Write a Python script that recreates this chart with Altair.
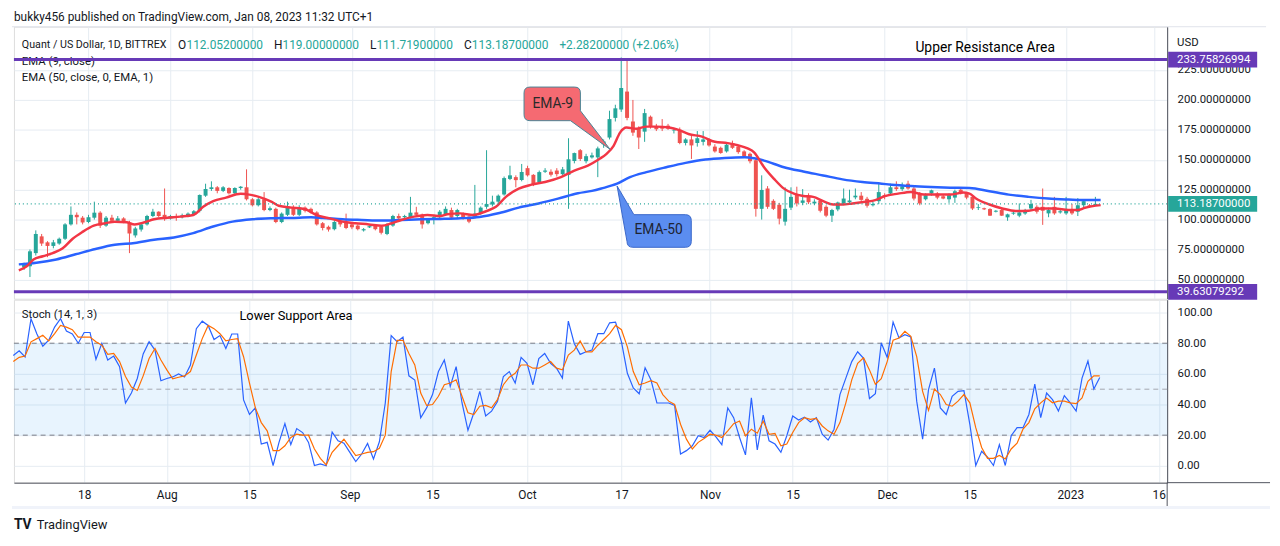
import altair as alt
import pandas as pd
import numpy as np

# ---------------- data ----------------
BASE = pd.Timestamp("2022-07-07")  # first daily candle

opens = [60, 61, 72, 86, 81, 78, 80, 84, 96, 104, 101.6, 98, 101.6, 105.8, 95, 101.6, 99, 101, 97.5, 86.8,
         91.7, 96, 103, 106.6, 104, 101, 103, 102, 103, 104, 107.4, 120, 125.6, 127, 124, 126.4, 122, 126.4, 127, 117,
         112, 117, 108, 109, 98, 104, 110.7, 104, 110, 109, 106, 97, 94, 92, 99, 98, 96, 95, 91, 93.5,
         95, 94, 88, 95, 103, 102, 102, 106, 104, 97, 100, 102, 104, 108, 103, 105, 102.5, 102.5, 105, 110.7,
         112.6, 115, 121, 134, 135.5, 133, 143, 137.4, 131.4, 140, 140, 141, 138, 137.4, 149, 158, 148.8, 152, 152, 163,
         168.6, 185, 192, 207, 182, 176, 173.5, 186, 178, 178, 178.5, 174.5, 175, 164, 167, 164, 165, 167, 161, 160,
         157, 163.8, 161, 157, 155, 149.6, 109, 126, 115.7, 112.4, 98.3, 110, 121, 114, 120, 113.5, 115.7, 110.7, 103.3, 108.5,
         113.5, 114.5, 118.6, 120, 117.4, 112, 115.4, 120.5, 121.8, 127, 125.4, 130, 126, 122.3, 117, 121.8, 121.8, 119.5, 117, 118.4,
         125, 121.8, 119, 109.7, 109.5, 108.8, 106.6, 108, 101.9, 105, 103.3, 105.2, 109.3, 110.7, 110.7, 105.2, 110.7, 106, 105.2, 108,
         106.6, 112, 112, 112.052]
highs = [64, 75, 91, 88, 82, 83, 85, 97, 111, 106, 103, 104, 115, 107, 103, 104, 103, 102, 99, 94,
         97, 104, 109, 107, 126, 104, 105, 105, 106, 108, 121, 130, 132, 128, 128, 127, 127, 128, 142, 118,
         118, 123, 111, 110, 106, 115, 112, 112, 111, 110, 107, 98, 95, 99, 101, 105, 97, 96, 93, 95,
         96, 95, 97, 104, 105, 104, 119, 110.7, 105, 101, 103, 108, 111, 110, 109, 106, 104, 129, 111, 158,
         120, 121, 136, 145, 137, 146.5, 145, 138, 141, 143, 142, 143, 144, 168, 156, 159, 155, 156, 161, 167,
         191, 196, 235.5, 233, 200, 178, 192.5, 187, 180, 184, 180, 176, 177, 168, 170, 174, 174, 168, 163, 161,
         164, 166, 162, 158, 156, 151, 137, 128, 117, 114, 127, 127, 127.5, 125.5, 122, 117, 117, 112, 109, 115,
         126, 125, 126, 123, 119, 115, 130, 122, 130, 132, 131, 132.5, 128, 123, 122, 125, 123, 121, 122, 125,
         127, 123, 120, 113, 110, 109.5, 108, 109, 105, 106.5, 113.5, 109, 116.5, 112, 126, 110, 119, 109, 119, 113,
         118, 117, 113, 119]
lows = [58, 52, 70, 78, 68.6, 76, 79, 83, 95, 96, 96, 97, 100, 93, 94, 98, 98, 97, 72, 85,
        90, 95, 102, 102, 99, 100, 99, 101, 102, 103, 106, 119, 124, 122, 123, 121, 121, 125, 116, 111,
        111, 107, 107, 97, 97, 103, 103, 103, 106, 105, 95, 91, 90, 91, 94, 92, 92, 91, 90, 93,
        91, 87.6, 87, 94, 100, 101, 101, 103, 92.5, 96, 96, 101, 103, 100, 101, 100, 97, 101, 104, 109,
        111, 113, 120, 133, 127, 132, 136, 128, 130, 139, 136, 136, 137, 109, 147, 149, 147, 151, 135.5, 160,
        167, 182, 190, 183, 170, 159, 165, 176, 174, 174, 175, 172, 163, 162, 150.7, 161, 162, 161, 156, 155,
        156, 159, 155, 152, 147, 102.5, 100, 109, 108, 96, 95, 108, 111, 112, 113, 112, 106, 102, 98, 107,
        112, 113, 117, 115, 110, 111, 113, 117, 120, 124, 124, 125, 116, 112, 116, 120, 117, 117, 114, 114,
        121, 117, 108, 108, 108, 103, 106, 103, 99, 104, 102, 104, 108, 105, 95.6, 102, 104, 105, 104, 104,
        103, 110, 110, 111.719]
closes = [63, 73.5, 88, 80, 78, 81, 84, 96, 104, 102, 97.6, 102, 105.8, 95, 101.6, 99, 101, 98, 88.4, 92.6,
          96, 103, 106.6, 103, 101, 103, 101.5, 103.5, 105, 107, 120.6, 125.6, 127, 124, 127, 122, 126.4, 127.5, 117, 112,
          117, 108, 109.5, 98, 105, 110.7, 104, 110, 107.4, 106, 96, 93, 91.7, 98, 96, 93, 93.6, 92, 92, 94.5,
          92, 89, 96, 103, 101, 103, 105.8, 104, 96, 100, 102, 106.6, 109, 101.6, 108, 101, 98.3, 105, 110, 113,
          115, 120, 134.7, 137, 133, 139.7, 137, 129, 139.7, 141, 137.5, 138, 142, 150.4, 155.6, 150.7, 153, 153.7, 159.5, 165.3,
          184, 193, 210, 185, 172.7, 168.6, 189, 177.7, 175.5, 176, 176, 175, 164, 167, 162, 168, 167, 162, 157, 155.7,
          162.6, 160, 156.4, 153, 148.8, 109, 124.8, 110.7, 109, 100.8, 109, 119, 113.5, 116, 114.5, 115, 107.4, 103.3, 108, 114.3,
          117.6, 116, 120, 116.5, 111.6, 113, 123, 119, 127, 125.5, 127.7, 126, 117.6, 113.5, 120.4, 124.5, 118.4, 117.6, 120.4, 123.7,
          121.8, 118.4, 109.3, 110.3, 108.6, 103.3, 107.4, 103.3, 104.4, 105.8, 106, 108, 113, 106.6, 107.4, 108, 105.2, 107, 108, 105.2,
          112, 115.4, 110.7, 113.187]

ema9_days = [-0.9, 0.45, 1.6, 3.2, 4.9, 6.6, 8.3, 9.9, 11.9, 13.9, 15.5, 17.5, 18.9, 20.6, 22.2, 24.5, 26.7, 28.9, 30.6, 32.3,
             34.5, 37.0, 37.9, 40.1, 42.3, 43.5, 45.7, 47.9, 49.9, 52.2, 54.4, 56.6, 58.9, 61.1, 62.8, 64.4, 66.6, 68.9, 71.1, 72.3,
             74.5, 76.7, 79.0, 80.6, 82.3, 84.5, 86.7, 89.0, 91.7, 94.0, 96.3, 98.2, 99.5, 100.7, 101.8, 102.9, 104.6, 106.3, 108.0, 110.2,
             111.8, 113.5, 115.8, 118.0, 120.2, 121.9, 123.6, 124.7, 126.4, 128.1, 129.8, 131.5, 133.1, 134.8, 136.5, 138.2, 139.8, 141.5, 143.7, 145.4,
             147.0, 149.3, 151.5, 153.7, 156.0, 158.2, 160.4, 161.5, 162.6, 164.9, 167.1, 169.4, 171.6, 173.8, 176.1, 178.4, 180.0, 181.2, 183.9]
ema9_vals = [57.6, 61, 66.7, 69.4, 72, 76, 84, 89.5, 95, 97, 98.3, 97.8, 96, 97.8, 100.3, 101.6, 102.5, 103.9, 110.7, 115.4,
             118.4, 121.7, 121.3, 119, 114.9, 111.6, 110, 108.8, 104, 101, 98.3, 97, 96, 94.8, 97, 99.7, 102.5, 103.9, 103, 104.4,
             105.2, 103.9, 107.2, 110.7, 119, 125.9, 129.2, 131.4, 135.5, 141, 145.2, 150.5, 155, 161.7, 172.7, 176.9, 176, 177.7, 177.7, 176.9,
             175, 171.5, 169.4, 165, 163.9, 162.2, 159.5, 156.2, 143.8, 134.1, 125.9, 121.7, 119.8, 119, 115.4, 112.6, 112.6, 113.5, 114.9, 116.3,
             119.6, 121.7, 123.1, 120.9, 120.9, 120.9, 122.6, 121.7, 117.6, 112.6, 109.3, 107.2, 107.4, 109.3, 109.3, 108, 108, 109.9, 112.1]

ema50_days = [-0.9, 2.1, 5.5, 8.8, 12.2, 15.5, 18.9, 22.2, 25.6, 28.9, 32.3, 35.6, 39.0, 42.3, 45.7, 49.0, 51.0, 54.4, 57.7, 61.1,
              64.4, 67.8, 71.1, 74.5, 77.8, 81.2, 84.5, 87.9, 91.2, 94.6, 97.0, 98.6, 101.3, 103.5, 106.3, 109.7, 113.0, 116.4, 119.7, 123.1,
              124.7, 126.4, 129.8, 133.1, 136.5, 139.8, 143.2, 146.5, 148.2, 151.5, 154.9, 158.2, 161.5, 164.9, 168.2, 171.6, 174.9, 178.4, 181.7, 183.9]
ema50_vals = [62.6, 63.9, 66.7, 71.0, 75.5, 79, 80.4, 83.2, 85.1, 88.7, 94.2, 98.3, 100.3, 101.1, 101.4, 101.9, 101.4, 100.3, 99.7, 99.2,
              99.7, 100.3, 100.6, 101.1, 102.2, 105.5, 110.0, 113.5, 117.5, 122.0, 124.0, 126.0, 130, 135.5, 139.7, 143.8, 147.4, 150.2, 151.5, 152.1,
              151.2, 149.3, 143.8, 140.2, 136.9, 133.6, 131.4, 130, 129.2, 128.1, 127.3, 126.7, 126.4, 123.7, 120.9, 119, 117.6, 116.8, 116.3, 116.3]

STOCH_FIRST_DAY = -1
stoch_k = [72, 75, 71, 96, 86, 78, 82, 90.5, 96, 88, 86, 80, 87, 87, 69.5, 80, 69, 71.6, 64.7, 41,
           47.5, 57, 73, 81, 75.5, 55.5, 57, 58, 60, 58, 65.8, 89.5, 94.4, 91.6, 82.4, 85, 76.6, 86, 86, 43,
           33.5, 37.8, 14.2, 15.3, 0.2, 15.3, 27.5, 13.8, 24.3, 21.7, 15.3, 0.2, 1.3, 0, 22, 16.3, 14.8, 8.8, 2.8, 7.7,
           14.6, 4.5, 15.7, 41, 85, 81, 84, 58.7, 56, 31.4, 37.8, 46.5, 61.5, 69, 51.8, 64.7, 41, 23.2, 34.6, 48.6,
           32.5, 35.7, 42, 58.3, 61.5, 54, 70.8, 66.9, 52.9, 70, 73.3, 66.9, 63.7, 57.2, 94.4, 79.8, 72.7, 74.4, 75.5, 86.2,
           86.2, 93.3, 93.8, 80.9, 60.4, 50.8,
           47, 64, 56, 41, 41, 41, 39.4, 7.7, 9.9, 13.1,
           19.6, 18.5, 23.2, 18.9, 13.8, 37.8, 31.4, 18.5, 7.1, 44.3,
           10.3, 33.1, 16.3, 14.2, 8.8, 19.6, 32.5, 29.9, 31.8, 28.6,
           31.4, 20.6, 16.8, 23.9, 46.5, 57.2, 68, 74.4, 70.1, 43.9,
           47.1, 80.2, 70.8, 93.8, 83.4, 85.6, 84.1, 42.2, 17.4, 49.7,
           63.7, 37.8, 33.5, 45.4, 48.6, 49, 27.1, 0.2, 9.5, 5.6,
           0.2, 13.8, 0.2, 19.6, 24.9, 24.9, 33.5, 53.3, 31.4, 47.5,
           43.2, 35.7, 45.8, 41.1, 35.7, 57.2, 68.4, 50.1, 57.6]
stoch_d = [68, 70.8, 71.6, 80.9, 83, 85.2, 81.5, 86.2, 91.6, 90.5,
           88.8, 84, 84, 84, 80.9, 78.7, 72.7, 73.3, 68, 58.3,
           51.4, 49.2, 58.7, 70, 76.6, 69, 62.6, 56.8, 57.8, 58.7,
           61.5, 72.3, 83, 91.6, 89.5, 86.2, 81.5, 82.4, 83, 71.2,
           54, 37.8, 28.2, 22.8, 9.9, 9.9, 13.1, 18.5, 20.6, 20,
           20, 11, 4.9, 0.6, 8.8, 13.1, 17.4, 12, 6.7, 7.7,
           8.8, 9.2, 11.4, 20, 61.5, 81.9, 81.9, 73.3, 65.8, 47.5,
           39.4, 40, 45.4, 52.9, 54, 56.1, 45.4, 34.6, 33.5, 38.9,
           39.4, 37.8, 43.2, 52.9, 57.8, 60.4, 65.8, 65.8, 63.7, 63.7,
           65.8, 68, 63.7, 62.6, 72.3, 75.5, 81.5, 74.4, 74.4, 78.7,
           82.4, 86.2, 91.6, 88.8, 77.6, 61.5,
           52.9, 54, 55.5, 54, 46.5, 42.2, 40, 27.1, 17.4, 11,
           15.3, 17.8, 20.6, 20, 18.5, 22.8, 27.5, 29.2, 19.6, 23.9,
           21.3, 29.2, 20.6, 21.1, 13.1, 14.2, 21.7, 28.2, 31.4, 30.3,
           31, 26, 22.8, 20.6, 28.2, 41.1, 56.1, 66.9, 70.5, 62.6,
           53.3, 56.8, 68, 81.9, 83.4, 87.7, 84.5, 71.2, 48.6, 36.1,
           50.1, 46.5, 40, 38.9, 42.2, 46.5, 41.1, 24.9, 12, 4.9,
           4.9, 6.7, 4.5, 11, 14.8, 23.9, 28.2, 37.2, 41.1, 44.3,
           41.1, 42.2, 42.2, 41.1, 40.6, 44.3, 55.1, 58.7, 58.7]

levels = [233.75826994, 39.63079292]
last_close = 113.187
ohlc_text = ["112.05200000", "119.00000000", "111.71900000", "113.18700000", "+2.28200000 (+2.06%)"]
price_ticks = [50, 75, 100, 125, 150, 175, 200, 225]
stoch_ticks = [0, 20, 40, 60, 80, 100]
tick_dates = [(2022, 7, 18), (2022, 8, 1), (2022, 8, 15), (2022, 9, 1), (2022, 9, 15), (2022, 10, 1),
              (2022, 10, 17), (2022, 11, 1), (2022, 11, 15), (2022, 12, 1), (2022, 12, 15), (2023, 1, 1), (2023, 1, 16)]
callout_days = [100.1, 101.3]
callout_prices = [158.7, 128.1]

# ---------------- styling ----------------
W, H1, H2 = 1166, 275, 185
UP, DN = "#26a69a", "#ef5350"
PURPLE = "#673ab7"
GRID = "#e6ecf2"
TXT = "#131722"
FONT = "Roboto"


def to_dates(days):
    return [BASE + pd.Timedelta(days=float(d)) for d in days]


n = min(len(opens), len(highs), len(lows), len(closes))
candles = pd.DataFrame({"date": to_dates(range(n)), "open": opens[:n], "high": highs[:n],
                        "low": lows[:n], "close": closes[:n]})
candles["dir"] = np.where(candles["close"] >= candles["open"], "up", "down")

ema9 = pd.DataFrame({"date": to_dates(ema9_days), "v": ema9_vals})
ema50 = pd.DataFrame({"date": to_dates(ema50_days), "v": ema50_vals})
m = min(len(stoch_k), len(stoch_d))
sdays = list(range(STOCH_FIRST_DAY, STOCH_FIRST_DAY + m))
stoch = pd.DataFrame({"date": to_dates(sdays), "k": stoch_k[:m], "d": stoch_d[:m]})

xscale = alt.Scale(domain=[alt.DateTime(year=2022, month=7, date=6, hours=2, minutes=38),
                           alt.DateTime(year=2023, month=1, date=17, hours=10)])
tvals = [alt.DateTime(year=y, month=mo, date=d) for (y, mo, d) in tick_dates]
LBL = ("timeFormat(datum.value, '%d') == '01' ? (timeFormat(datum.value, '%m') == '01' ? "
       "timeFormat(datum.value, '%Y') : timeFormat(datum.value, '%b')) : timeFormat(datum.value, '%d')")
xax_p = alt.Axis(values=tvals, labels=False, ticks=False, domain=False, grid=True, gridColor=GRID, title=None)
xax_s = alt.Axis(values=tvals, labelExpr=LBL, ticks=False, domain=True, domainColor="#50535e", grid=True,
                 gridColor=GRID, title=None, labelPadding=7, labelFontSize=12, labelColor=TXT,
                 labelOverlap=False, labelFlush=False)

yscale = alt.Scale(domain=[33.9, 261.2], nice=False, zero=False)
yax = alt.Axis(orient="right", values=price_ticks, format=".8f", ticks=False, domain=True, domainColor="#50535e",
               grid=True, gridColor=GRID, labelPadding=10, title=None, labelFontSize=11.5, labelColor=TXT)
sscale = alt.Scale(domain=[-11.0, 108.4], nice=False, zero=False)
sax = alt.Axis(orient="right", values=stoch_ticks, format=".2f", ticks=False, domain=True, domainColor="#50535e",
               grid=True, gridColor=GRID, labelPadding=10, title=None, labelFontSize=11.5, labelColor=TXT)

one = pd.DataFrame({"a": [0]})


def label(text, x, y, size=12, color=TXT, align="left", weight="normal"):
    return alt.Chart(one).mark_text(text=text, align=align, baseline="middle", fontSize=size,
                                    color=color, fontWeight=weight, font=FONT).encode(
        x=alt.value(x), y=alt.value(y))


def px(x, y, x2=None, y2=None):
    enc = {"x": alt.value(x), "y": alt.value(y)}
    if x2 is not None:
        enc["x2"] = alt.value(x2)
    if y2 is not None:
        enc["y2"] = alt.value(y2)
    return enc


X = alt.X("date:T", scale=xscale, axis=xax_p)
cenc = alt.Color("dir:N", scale=alt.Scale(domain=["up", "down"], range=[UP, DN]), legend=None)

wicks = alt.Chart(candles).mark_rule(strokeWidth=1).encode(
    x=X, y=alt.Y("low:Q", scale=yscale, axis=yax), y2="high:Q", color=cenc)
bodies = alt.Chart(candles).mark_bar(size=4).encode(
    x=X, y=alt.Y("open:Q", scale=yscale, axis=yax), y2="close:Q", color=cenc)

ema9_line = alt.Chart(ema9).mark_line(color="#f23645", strokeWidth=2.5, interpolate="monotone").encode(
    x=X, y=alt.Y("v:Q", scale=yscale, axis=yax))
ema50_line = alt.Chart(ema50).mark_line(color="#2962ff", strokeWidth=2.5, interpolate="monotone").encode(
    x=X, y=alt.Y("v:Q", scale=yscale, axis=yax))

lv = alt.Chart(pd.DataFrame({"v": levels})).mark_rule(color=PURPLE, strokeWidth=3).encode(
    y=alt.Y("v:Q", scale=yscale, axis=yax))
dotted = alt.Chart(pd.DataFrame({"v": [last_close]})).mark_rule(color=UP, strokeWidth=1.2, strokeDash=[1, 3]).encode(
    y=alt.Y("v:Q", scale=yscale, axis=yax))

tags = pd.DataFrame({"v": levels + [last_close],
                     "txt": ["%.8f" % levels[0], "%.8f" % levels[1], "%.8f" % last_close],
                     "col": [PURPLE, PURPLE, UP]})
tag_box = alt.Chart(tags).transform_calculate(lo="datum.v - 6.6", hi="datum.v + 6.6").mark_rect().encode(
    x=alt.value(W + 1), x2=alt.value(W + 91), y=alt.Y("lo:Q", scale=yscale, axis=yax), y2="hi:Q",
    color=alt.Color("col:N", scale=None))
tag_txt = alt.Chart(tags).mark_text(align="left", baseline="middle", color="white", fontSize=11.5, font=FONT).encode(
    x=alt.value(W + 10), y=alt.Y("v:Q", scale=yscale, axis=yax), text="txt:N")

# callouts
c9 = pd.DataFrame({"date": to_dates([callout_days[0]]), "v": [callout_prices[0]]})
c50 = pd.DataFrame({"date": to_dates([callout_days[1]]), "v": [callout_prices[1]]})
P9 = ("M -81,-63 L -36,-63 Q -30,-63 -30,-57 L -30,-39 L 0,0 L -40,-29 L -81,-29 "
      "Q -87,-29 -87,-35 L -87,-57 Q -87,-63 -81,-63 Z")
P50 = "M 0,0 L 17,29 L 69,29 Q 75,29 75,35 L 75,56 Q 75,62 69,62 L 16,62 Q 10,62 10,56 Z"
call9 = alt.Chart(c9).mark_point(shape=P9, size=4, filled=True, fill="#f56a72", stroke="#4a8596",
                                 strokeWidth=1, opacity=1).encode(x=X, y=alt.Y("v:Q", scale=yscale, axis=yax))
call9t = alt.Chart(c9).mark_text(text="EMA-9", dx=-58, dy=-46, fontSize=14, color="#2a2a2a", font=FONT).encode(
    x=X, y=alt.Y("v:Q", scale=yscale, axis=yax))
call50 = alt.Chart(c50).mark_point(shape=P50, size=4, filled=True, fill="#5b8df0", stroke="#3a67c9",
                                   strokeWidth=1, opacity=1).encode(x=X, y=alt.Y("v:Q", scale=yscale, axis=yax))
call50t = alt.Chart(c50).mark_text(text="EMA-50", dx=42, dy=45, fontSize=14, color="#1e2433", font=FONT).encode(
    x=X, y=alt.Y("v:Q", scale=yscale, axis=yax))

LY = 19  # legend row
price_texts = [
    label("bukky456 published on TradingView.com, Jan 08, 2023 11:32 UTC+1", 0, -10, size=12),
    label("Quant / US Dollar, 1D, BITTREX", 8, LY, size=10.8),
    label("O", 166, LY), label(ohlc_text[0], 174.5, LY, color=UP),
    label("H", 263, LY), label(ohlc_text[1], 271.5, LY, color=UP),
    label("L", 360, LY), label(ohlc_text[2], 366.5, LY, color=UP),
    label("C", 455, LY), label(ohlc_text[3], 463, LY, color=UP),
    label(ohlc_text[4], 551.5, LY, color=UP),
    label("EMA (9, close)", 8, 36, size=11.5),
    label("EMA (50, close, 0, EMA, 1)", 8, 52, size=11.5),
    label("Upper Resistance Area", 982, 22, size=14, color="#000000", align="center"),
    label("USD", W + 10, 17, size=11.5),
]
top_line = alt.Chart(one).mark_rule(color="#e0e3eb", strokeWidth=1).encode(**px(-2, 0, W + 100))

price = alt.layer(
    top_line, wicks, bodies, ema50_line, ema9_line, dotted, *price_texts, lv,
    call9, call9t, call50, call50t, tag_box, tag_txt
).properties(width=W, height=H1)

# ---------------- stochastic panel ----------------
XS = alt.X("date:T", scale=xscale, axis=xax_s)
band = alt.Chart(pd.DataFrame({"lo": [20], "hi": [80]})).mark_rect(color="#2196f3", opacity=0.1).encode(
    x=alt.value(0), x2=alt.value(W), y=alt.Y("lo:Q", scale=sscale, axis=sax), y2="hi:Q")
dash_outer = alt.Chart(pd.DataFrame({"v": [20, 80]})).mark_rule(color="#787b86", strokeWidth=1, strokeDash=[5, 4]).encode(
    y=alt.Y("v:Q", scale=sscale, axis=sax))
dash_mid = alt.Chart(pd.DataFrame({"v": [50]})).mark_rule(color="#a3a6af", strokeWidth=1, strokeDash=[5, 4]).encode(
    y=alt.Y("v:Q", scale=sscale, axis=sax))
kline = alt.Chart(stoch).mark_line(color="#2962ff", strokeWidth=1.2).encode(
    x=XS, y=alt.Y("k:Q", scale=sscale, axis=sax))
dline = alt.Chart(stoch).mark_line(color="#ff6d00", strokeWidth=1.2).encode(
    x=XS, y=alt.Y("d:Q", scale=sscale, axis=sax))
axis_ext = alt.Chart(one).mark_rule(color="#50535e", strokeWidth=1).encode(**px(W, H2, W + 104))
axis_tick = alt.Chart(one).mark_rule(color="#50535e", strokeWidth=1).encode(**px(W, H2, None, H2 + 24))
bottom_strip = alt.Chart(one).mark_rule(color="#f0f3fa", strokeWidth=3).encode(**px(-2, H2 + 25, W + 104))

stoch_texts = [
    label("Stoch (14, 1, 3)", 8, 16, size=11.5),
    label("Lower Support Area", 228, 17, size=13, color="#000000"),
    label("TV", 0, H2 + 43, size=14, color="#131722", weight="bold"),
    label("TradingView", 23, H2 + 43, size=13, color="#131722"),
]

stoch_panel = alt.layer(
    band, dash_mid, dash_outer, kline, dline, axis_ext, axis_tick, bottom_strip, *stoch_texts
).properties(width=W, height=H2)

chart = alt.vconcat(price, stoch_panel, spacing=1, bounds="flush").properties(
    padding={"left": 2, "top": -1, "right": 0, "bottom": 0}
).configure_view(stroke=None).configure(font=FONT).configure_axis(labelFont=FONT)

chart.save("out.html", embed_options={"renderer": "svg", "actions": False})
